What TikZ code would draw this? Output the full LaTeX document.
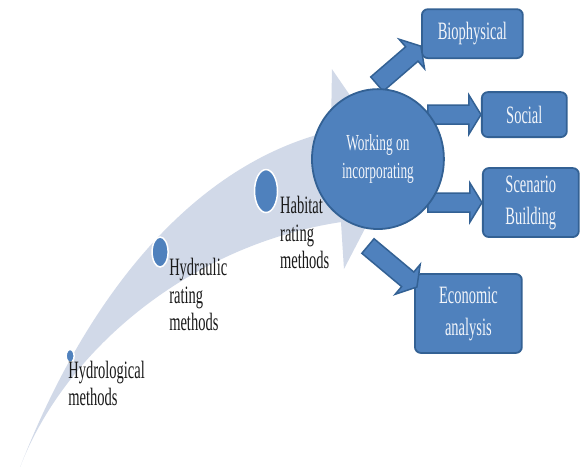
\documentclass[tikz,border=0pt]{standalone}
\usepackage{fontspec}
\setmainfont{Liberation Serif}[FakeStretch=0.58]
\usepackage{tikz}
\usetikzlibrary{shapes}
\usetikzlibrary{calc}
\definecolor{bandcol}{rgb}{0.82,0.85,0.91}
\definecolor{fillblue}{rgb}{0.31,0.506,0.741}
\definecolor{edgeblue}{rgb}{0.2,0.38,0.58}
\definecolor{boxtext}{rgb}{0.95,0.96,0.98}
\newcommand{\blockarrow}[2]{%
  \coordinate (hd) at ($(#2)!12bp!(#1)$);
  \filldraw [barrow] ($(#1)!9.5bp!90:(#2)$) -- ($(hd)!9.5bp!90:(#2)$) -- ($(hd)!19.5bp!90:(#2)$) -- (#2)
    -- ($(hd)!19.5bp!-90:(#2)$) -- ($(hd)!9.5bp!-90:(#2)$) -- ($(#1)!9.5bp!-90:(#2)$) -- cycle;}

\begin{document}
\begin{tikzpicture}[line join=miter,
  box/.style={draw=edgeblue,fill=fillblue,line width=1.8bp,rounded corners=6bp,text=boxtext,
    align=center,inner sep=0pt,font=\fontsize{25bp}{32bp}\selectfont},
  lbl/.style={anchor=north west,align=left,inner sep=0pt,text=black!90,
    font=\fontsize{25bp}{27.5bp}\selectfont},
  dot/.style={draw=white,fill=fillblue,ellipse,line width=1.5bp,inner sep=0pt},
  barrow/.style={draw=edgeblue,fill=fillblue,line width=1.5bp}]
%%
\begin{scope}
  \pgfsetstrokecolor{white}
  \pgfsetfillcolor{white}
  \filldraw (0.0bp,0.0bp) -- (0.0bp,467.0bp) -- (582.0bp,467.0bp) -- (582.0bp,0.0bp) -- cycle;
\end{scope}
% curved band
\fill [bandcol] (20.0bp,0.0bp) .. controls (85.0bp,167.0bp) and (190.0bp,302.0bp) .. (331.0bp,336.0bp)
  -- (332.0bp,398.0bp) -- (398.0bp,302.0bp) -- (344.0bp,198.0bp) -- (341.0bp,245.0bp)
  .. controls (190.0bp,222.0bp) and (65.0bp,117.0bp) .. (20.0bp,0.0bp) -- cycle;
  \node (d0) at (70.0bp,111.0bp) [dot,minimum width=8bp,minimum height=13bp] {};
  \node (d1) at (160.0bp,215.0bp) [dot,minimum width=16bp,minimum height=30bp] {};
  \node (d2) at (266.0bp,276.0bp) [dot,minimum width=23bp,minimum height=43bp] {};
  \node (l0) at (68.0bp,106.0bp) [lbl] {Hydrological\\methods};
  \node (l1) at (169.0bp,209.0bp) [lbl] {Hydraulic\\rating\\methods};
  \node (l2) at (280.0bp,271.0bp) [lbl] {Habitat\\rating\\methods};
  \node (bio) at (472.5bp,433.5bp) [box,minimum width=101bp,minimum height=49bp] {Biophysical};
  \node (soc) at (524.5bp,352.5bp) [box,minimum width=85bp,minimum height=45bp] {Social};
  \node (scen) at (531.0bp,264.5bp) [box,minimum width=96bp,minimum height=69bp] {Scenario\\Building};
  \node (eco) at (468.5bp,153.5bp) [box,minimum width=107bp,minimum height=79bp] {Economic\\analysis};
  \coordinate (bioS) at (377.0bp,383.0bp);
  \coordinate (bioE) at (421.0bp,421.0bp);
  \coordinate (socS) at (428.0bp,352.5bp);
  \coordinate (scenS) at (428.0bp,264.5bp);
  \coordinate (ecoS) at (368.0bp,221.0bp);
  \coordinate (ecoE) at (417.0bp,180.0bp);
  \blockarrow{bioS}{bioE}
  \blockarrow{socS}{soc.west}
  \blockarrow{scenS}{scen.west}
  \blockarrow{ecoS}{ecoE}
  \node (work) at (378.0bp,308.0bp) [draw=edgeblue,fill=fillblue,line width=1.8bp,ellipse,
    minimum width=132bp,minimum height=140bp,inner sep=0pt,text=boxtext,align=center,
    font=\fontsize{23bp}{28bp}\selectfont] {Working on\\incorporating};
%
\end{tikzpicture}
\end{document}
